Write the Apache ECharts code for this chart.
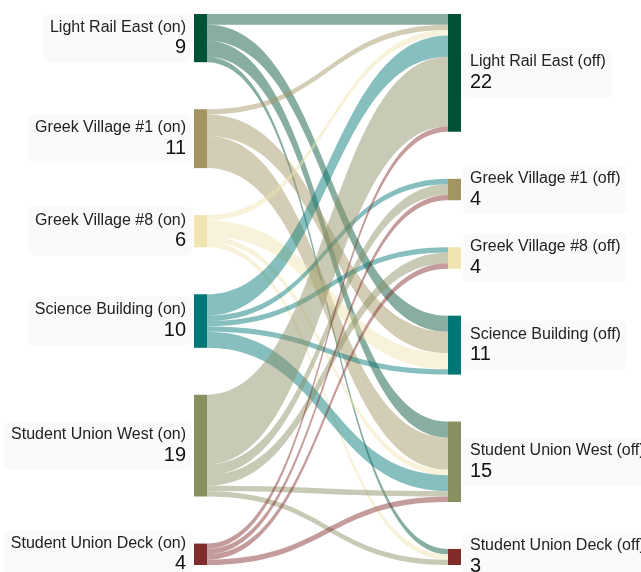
<!DOCTYPE html>
<html lang="en" style="height: 100%">
  <head>
    <meta charset="utf-8" />
  </head>
  <body style="height: 100%; margin: 0; background: #fff">
    <div id="container" style="width: 641px; height: 572px"></div>
    <script src="https://cdn.jsdelivr.net/npm/echarts@6/dist/echarts.min.js"></script>
    <script type="text/javascript">
      // stops, in the same order on both sides
      var stops = [
        "Light Rail East",
        "Greek Village #1",
        "Greek Village #8",
        "Science Building",
        "Student Union West",
        "Student Union Deck",
      ];

      // riders getting on at one stop -> how many got off at each stop (same order as stops)
      var fromLightRailEast = [2, 0, 0, 3, 3, 1];
      var fromGreekVillage1 = [1, 0, 0, 4, 6, 0];
      var fromGreekVillage8 = [1, 0, 0, 3, 1, 1];
      var fromScienceBuilding = [4, 1, 1, 1, 3, 0];
      var fromStudentUnionWest = [13, 2, 2, 0, 1, 1];
      var fromStudentUnionDeck = [1, 1, 1, 0, 1, 0];

      var trips = [
        fromLightRailEast,
        fromGreekVillage1,
        fromGreekVillage8,
        fromScienceBuilding,
        fromStudentUnionWest,
        fromStudentUnionDeck,
      ];

      var stopColors = ["#005236", "#a39562", "#f0e4b0", "#007777", "#8a8f62", "#812c2c"];

      var nodes = [];
      var links = [];
      stops.forEach(function (s, i) {
        nodes.push({ name: s + " (on)", depth: 0, itemStyle: { color: stopColors[i] } });
      });
      stops.forEach(function (s, i) {
        nodes.push({ name: s + " (off)", depth: 1, itemStyle: { color: stopColors[i] } });
      });
      trips.forEach(function (row, i) {
        row.forEach(function (v, j) {
          if (v > 0) {
            links.push({ source: stops[i] + " (on)", target: stops[j] + " (off)", value: v });
          }
        });
      });

      var myChart = echarts.init(document.getElementById("container"), null, {
        renderer: "canvas",
      });

      var option = {
        animation: false,
        series: [
          {
            type: "sankey",
            left: 194,
            right: 180,
            top: 14,
            bottom: 7,
            nodeWidth: 13,
            nodeGap: 47,
            layoutIterations: 0,
            draggable: false,
            emphasis: { disabled: true },
            data: nodes,
            links: links,
            itemStyle: { borderWidth: 0 },
            lineStyle: { color: "source", opacity: 0.47, curveness: 0.5 },
            label: {
              distance: 2,
              fontFamily: "Liberation Sans, Arial, sans-serif",
              backgroundColor: "#fafafa",
              borderRadius: 6,
              padding: [4, 6, 4, 7],
              formatter: function (p) {
                return "{n|" + p.name + "}\n{v|" + p.value + "}";
              },
              rich: {
                n: { fontSize: 16, lineHeight: 19, color: "#222", fontFamily: "Liberation Sans, Arial, sans-serif" },
                v: { fontSize: 20, lineHeight: 22, color: "#111", fontFamily: "Liberation Sans, Arial, sans-serif" },
              },
            },
            levels: [
              { depth: 0, label: { position: "left", align: "right" } },
              { depth: 1, label: { position: "right", align: "left" } },
            ],
          },
        ],
      };

      myChart.setOption(option);
      window.addEventListener("resize", myChart.resize);
    </script>
  </body>
</html>
